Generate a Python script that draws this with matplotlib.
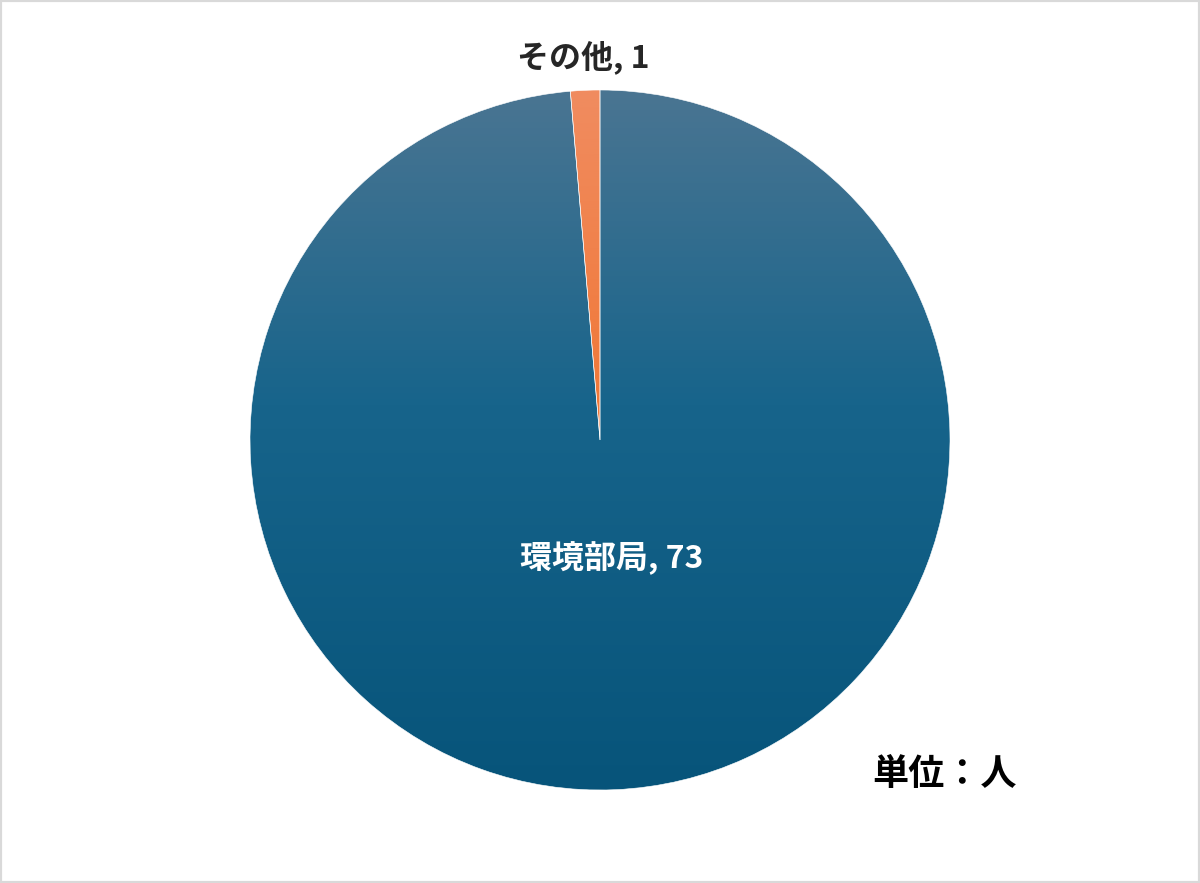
import numpy as np
import matplotlib
matplotlib.use('Agg')
import matplotlib.pyplot as plt
from matplotlib.colors import LinearSegmentedColormap

plt.rcParams['font.family'] = ['Noto Sans CJK JP', 'DejaVu Sans']

labels = ["その他", "環境部局"]
values = [1, 73]
# gradient stops top -> middle -> bottom
grad_colors = [["#f08c60", "#f07838", "#ee6a28"],
               ["#4a7592", "#17648b", "#07547a"]]

fig = plt.figure(figsize=(12, 8.83), dpi=100)
ax = fig.add_axes([0, 0, 1, 1])

cx, cy, r = 600, 443, 350
wedges, _ = ax.pie(values, startangle=90, counterclock=True, center=(cx, cy),
                   radius=r, frame=True,
                   wedgeprops=dict(edgecolor='white', linewidth=0.4))
ax.set_xlim(0, 1200)
ax.set_ylim(0, 883)
ax.set_aspect('equal')
ax.axis('off')

grad = np.linspace(1, 0, 256).reshape(-1, 1)
for w, cols in zip(wedges, grad_colors):
    cmap = LinearSegmentedColormap.from_list('g', [(0, cols[2]), (0.55, cols[1]), (1, cols[0])])
    w.set_facecolor('none')
    im = ax.imshow(grad, cmap=cmap, extent=(cx - r, cx + r, cy - r, cy + r),
                   aspect='auto', zorder=0.5, vmin=0, vmax=1)
    im.set_clip_path(w)

ax.text(583, 883 - 57, f"{labels[0]}, {values[0]}", ha='center', va='center',
        fontsize=23, fontweight='bold', color='#262626')
ax.text(612, 883 - 558, f"{labels[1]}, {values[1]}", ha='center', va='center',
        fontsize=23, fontweight='bold', color='white')
ax.text(944, 883 - 775, "単位：人", ha='center', va='center',
        fontsize=26, fontweight='bold', color='black')

# light gray frame
fig.patches.append(plt.Rectangle((0, 0), 1, 1, transform=fig.transFigure,
                                 fill=False, edgecolor='#d9d9d9', linewidth=3))

fig.savefig('out.png', dpi=100)
